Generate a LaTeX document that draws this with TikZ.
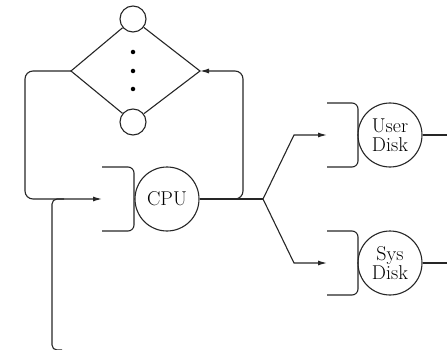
\documentclass[tikz,border=0pt]{standalone}
\usetikzlibrary{arrows.meta}
\begin{document}
\begin{tikzpicture}[x=1pt,y=-1pt,
  ln/.style={line width=1.1pt, draw=black!85},
  arr/.style={ln,-{Latex[length=9pt,width=5pt]}},
  small/.style={circle, ln, minimum size=26pt, inner sep=0pt},
  server/.style={circle, ln, minimum size=64pt, inner sep=0pt, font=\fontsize{20}{19}\selectfont, align=center},
  dot/.style={circle, fill=black, minimum size=4.5pt, inner sep=0pt}]
\useasboundingbox (0,0) rectangle (447,350);
% top block
\node[small] (t1) at (133,19) {};
\node[small] (t2) at (133,122) {};
\coordinate (L) at (71,71);
\coordinate (R) at (200,71);
\draw[ln] (t1) -- (L) -- (t2);
\draw[ln] (t1) -- (R) -- (t2);
\node[dot] (d1) at (133,52) {};
\node[dot] (d2) at (133,71) {};
\node[dot] (d3) at (133,89) {};
% CPU
\node[server] (cpu) at (167,199) {CPU};
\coordinate (cpuq) at (102,199);
\draw[ln, rounded corners=6pt] (102,167) -- (134,167) -- (134,231) -- (102,231);
% left loop
\draw[arr, rounded corners=8pt] (L) -- (25,71) -- (25,199) -- (cpuq);
% input line
\draw[ln, rounded corners=5pt] (62,350) -- (52,350) -- (52,199) -- (64,199);
% output
\coordinate (J) at (263,199);
\draw[ln] (cpu) -- (J);
\draw[arr, rounded corners=8pt] (228,199) -- (243,199) -- (243,71) -- (R);
% branches
\coordinate (ub) at (294,135);
\coordinate (sb) at (294,263);
\coordinate (uq) at (327,135);
\coordinate (sq) at (327,263);
\draw[arr] (J) -- (ub) -- (uq);
\draw[arr] (J) -- (sb) -- (sq);
% disks
\node[server] (ud) at (390,135) {User\\Disk};
\node[server] (sd) at (390,263) {Sys\\Disk};
\draw[ln, rounded corners=6pt] (327,103) -- (358,103) -- (358,167) -- (327,167);
\draw[ln, rounded corners=6pt] (327,231) -- (358,231) -- (358,295) -- (327,295);
\coordinate (uo) at (447,135);
\coordinate (so) at (447,263);
\draw[ln] (ud) -- (uo);
\draw[ln] (sd) -- (so);
\end{tikzpicture}
\end{document}
